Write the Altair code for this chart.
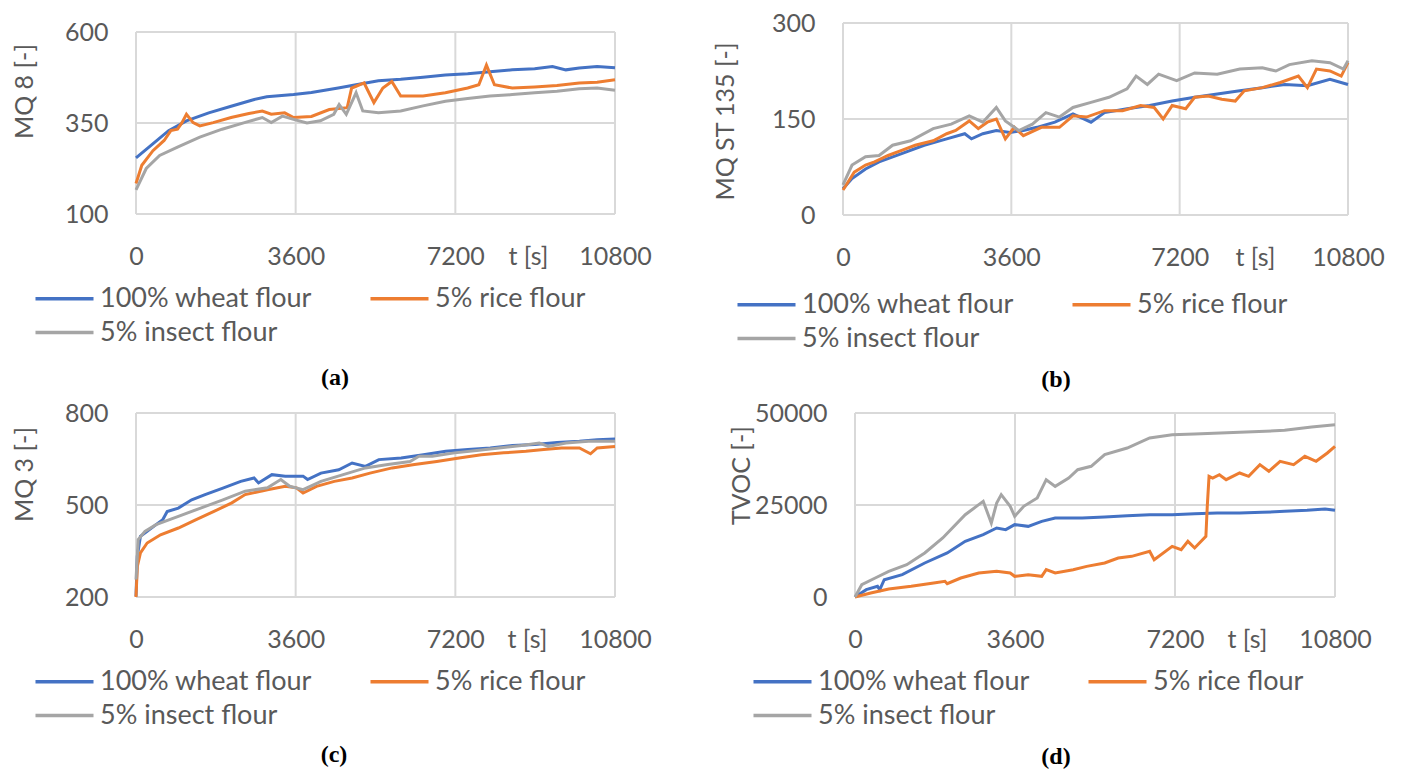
import altair as alt
import pandas as pd

SERIES = ["100% wheat flour", "5% rice flour", "5% insect flour"]
COLORS = ["#4472C4", "#ED7D31", "#A5A5A5"]
X_TICKS = [0, 3600, 7200, 10800]

# ---------------- panel (a) MQ 8 ----------------
a_wheat_t = [0, 332, 735, 1137, 1640, 2144, 2647, 2949, 3553, 3955, 4559, 4962, 5465, 5968, 6472, 6975, 7478, 7981, 8484, 8988, 9390, 9692, 9994, 10397, 10800]
a_wheat_v = [254, 288, 329, 356, 378, 396, 414, 422, 428, 434, 446, 455, 466, 470, 476, 482, 485, 491, 496, 499, 505, 496, 501, 505, 502]
a_rice_t = [0, 131, 382, 634, 785, 936, 1037, 1137, 1288, 1439, 1741, 2144, 2546, 2848, 3050, 3352, 3553, 3955, 4358, 4761, 4861, 4962, 5143, 5364, 5566, 5767, 5968, 6472, 6975, 7478, 7730, 7901, 8082, 8484, 8988, 9491, 9994, 10397, 10800]
a_rice_v = [184, 234, 274, 302, 329, 333, 351, 374, 351, 342, 351, 365, 376, 383, 374, 378, 365, 368, 387, 392, 446, 451, 460, 406, 446, 464, 424, 424, 433, 446, 455, 509, 455, 446, 449, 453, 460, 462, 469]
a_insect_t = [0, 231, 533, 936, 1439, 1942, 2446, 2848, 3050, 3301, 3553, 3855, 4157, 4459, 4580, 4741, 4962, 5113, 5465, 5968, 6472, 6975, 7478, 7981, 8484, 8988, 9491, 9994, 10397, 10800]
a_insect_v = [166, 225, 261, 284, 311, 333, 351, 365, 351, 369, 360, 350, 356, 374, 401, 374, 433, 383, 378, 383, 397, 410, 417, 424, 428, 433, 437, 444, 446, 440]

# ---------------- panel (b) MQ ST 135 ----------------
b_wheat_t = [0, 193, 482, 771, 1254, 1736, 2218, 2604, 2748, 2990, 3279, 3568, 3857, 4146, 4532, 4918, 5304, 5593, 6075, 6557, 7039, 7521, 8004, 8486, 8968, 9450, 9932, 10414, 10800]
b_wheat_v = [41, 57, 72, 83, 96, 109, 119, 127, 119, 127, 132, 129, 132, 137, 145, 158, 145, 160, 166, 171, 178, 184, 189, 194, 199, 204, 202, 212, 204]
b_rice_t = [0, 241, 482, 675, 964, 1254, 1543, 1929, 2218, 2411, 2700, 2893, 3086, 3279, 3472, 3664, 3857, 4243, 4629, 4918, 5207, 5593, 5979, 6364, 6654, 6847, 7039, 7329, 7521, 7811, 8100, 8389, 8582, 8968, 9354, 9739, 9932, 10125, 10414, 10655, 10800]
b_rice_v = [39, 67, 78, 83, 93, 101, 109, 116, 127, 132, 147, 135, 145, 150, 119, 137, 124, 137, 137, 155, 153, 163, 163, 171, 168, 150, 171, 166, 184, 186, 181, 178, 194, 199, 207, 217, 199, 228, 225, 217, 238]
b_insect_t = [0, 193, 482, 771, 1061, 1446, 1929, 2314, 2700, 2990, 3279, 3472, 3761, 4050, 4339, 4629, 4918, 5304, 5689, 6075, 6268, 6509, 6750, 7136, 7521, 8004, 8486, 8968, 9257, 9546, 10028, 10414, 10703, 10800]
b_insect_v = [47, 78, 91, 93, 109, 116, 135, 142, 155, 145, 168, 147, 132, 142, 160, 153, 168, 176, 184, 197, 217, 204, 220, 210, 222, 220, 228, 230, 225, 235, 241, 238, 228, 241]

# ---------------- panel (c) MQ 3 ----------------
c_wheat_t = [0, 30, 100, 251, 452, 603, 703, 955, 1256, 1557, 1959, 2361, 2662, 2763, 3064, 3366, 3767, 3868, 4170, 4572, 4873, 5174, 5476, 5978, 6480, 6983, 7485, 7987, 8490, 8992, 9494, 9997, 10399, 10800]
c_wheat_v = [202, 333, 398, 414, 436, 452, 479, 490, 517, 534, 555, 577, 588, 572, 599, 594, 594, 583, 604, 615, 637, 626, 648, 653, 664, 675, 681, 686, 694, 697, 704, 708, 713, 715]
c_rice_t = [0, 30, 100, 251, 553, 955, 1356, 1758, 2160, 2461, 2964, 3366, 3617, 3767, 4069, 4471, 4873, 5275, 5777, 6279, 6782, 7284, 7787, 8289, 8791, 9193, 9595, 9997, 10248, 10399, 10800]
c_rice_v = [200, 300, 344, 376, 403, 425, 452, 479, 507, 534, 550, 561, 556, 539, 561, 577, 588, 604, 621, 632, 642, 653, 664, 670, 675, 681, 686, 686, 667, 686, 691]
c_insect_t = [0, 50, 201, 452, 955, 1457, 1959, 2461, 2964, 3265, 3466, 3767, 4170, 4672, 5174, 5677, 6179, 6380, 6681, 7184, 7686, 8188, 8691, 9093, 9294, 9695, 10198, 10800]
c_insect_v = [257, 387, 414, 436, 463, 490, 517, 545, 556, 583, 561, 550, 577, 599, 621, 632, 642, 659, 659, 670, 678, 686, 694, 702, 691, 702, 708, 708]

# ---------------- panel (d) TVOC ----------------
d_wheat_t = [0, 253, 506, 557, 658, 1063, 1569, 2075, 2480, 2885, 3188, 3391, 3593, 3897, 4201, 4504, 5112, 5618, 6124, 6630, 7136, 7642, 8148, 8654, 9160, 9666, 10172, 10577, 10800]
d_wheat_v = [0, 2000, 2900, 2000, 4700, 6070, 9240, 11960, 15130, 16940, 18750, 18300, 19660, 19200, 20560, 21470, 21470, 21740, 22100, 22370, 22370, 22650, 22830, 22830, 23000, 23280, 23550, 23900, 23550]
d_rice_t = [0, 354, 759, 1265, 1771, 2024, 2075, 2379, 2784, 3188, 3492, 3593, 3897, 4201, 4302, 4504, 4909, 5213, 5618, 5922, 6226, 6630, 6731, 7136, 7339, 7490, 7642, 7895, 7926, 7966, 8047, 8199, 8351, 8654, 8857, 9110, 9312, 9565, 9869, 10122, 10375, 10628, 10800]
d_rice_v = [0, 1090, 2170, 2900, 3800, 4260, 3620, 5160, 6520, 6970, 6520, 5620, 6070, 5620, 7430, 6520, 7430, 8330, 9240, 10600, 11050, 12410, 10150, 13770, 12860, 15130, 13320, 16490, 24640, 32790, 32340, 33240, 31880, 33700, 32790, 35960, 34150, 36870, 35960, 38230, 36870, 39130, 40940]
d_insect_t = [0, 152, 455, 759, 1164, 1569, 1974, 2480, 2784, 2885, 3067, 3188, 3290, 3492, 3593, 3796, 4100, 4302, 4504, 4808, 5011, 5314, 5618, 6124, 6630, 7136, 7642, 8654, 9666, 10274, 10800]
d_insect_v = [0, 3350, 5160, 6970, 8790, 11960, 16030, 22370, 25090, 26000, 20110, 25540, 27810, 24640, 21920, 24640, 26900, 31880, 30070, 32340, 34600, 35510, 38680, 40490, 43210, 44110, 44290, 44750, 45290, 46200, 46830]

PANELS = [
    dict(key="a", label="(a)", ytitle="MQ 8 [-]", yticks=[100, 350, 600],
         series=[(a_wheat_t, a_wheat_v), (a_rice_t, a_rice_v), (a_insect_t, a_insect_v)],
         xr=[136, 615], yr=[214, 32], ytitle_xy=(24, 91), xtitle_x=528,
         legend_xy=(51, 285), label_xy=(335, 378)),
    dict(key="b", label="(b)", ytitle="MQ ST 135 [-]", yticks=[0, 150, 300],
         series=[(b_wheat_t, b_wheat_v), (b_rice_t, b_rice_v), (b_insect_t, b_insect_v)],
         xr=[843, 1348], yr=[215, 23], ytitle_xy=(725, 121), xtitle_x=1255,
         legend_xy=(753, 291), label_xy=(1056, 380)),
    dict(key="c", label="(c)", ytitle="MQ 3 [-]", yticks=[200, 500, 800],
         series=[(c_wheat_t, c_wheat_v), (c_rice_t, c_rice_v), (c_insect_t, c_insect_v)],
         xr=[136, 615], yr=[597, 413], ytitle_xy=(24, 474), xtitle_x=527,
         legend_xy=(51, 668), label_xy=(334, 755)),
    dict(key="d", label="(d)", ytitle="TVOC [-]", yticks=[0, 25000, 50000],
         series=[(d_wheat_t, d_wheat_v), (d_rice_t, d_rice_v), (d_insect_t, d_insect_v)],
         xr=[855, 1335], yr=[597, 413], ytitle_xy=(741, 475), xtitle_x=1247,
         legend_xy=(769, 668), label_xy=(1056, 757)),
]

W, H = 1405, 769
FONT = "Lato"
TXT = "#595959"
GRID = "#D9D9D9"

layers = []
for p in PANELS:
    xs = alt.Scale(domain=[0, 10800], range=p["xr"], nice=False, zero=False)
    ys = alt.Scale(domain=[p["yticks"][0], p["yticks"][-1]], range=p["yr"], nice=False, zero=False)
    ymin, ymax = p["yticks"][0], p["yticks"][-1]

    vgrid = pd.DataFrame({"t": X_TICKS, "v": [ymin] * 4, "v2": [ymax] * 4})
    hgrid = pd.DataFrame({"v": p["yticks"], "t": [0] * 3, "t2": [10800] * 3})

    layers.append(
        alt.Chart(vgrid).mark_rule(color=GRID, strokeWidth=2).encode(
            x=alt.X("t:Q", scale=xs, axis=None),
            y=alt.Y("v:Q", scale=ys, axis=None),
            y2="v2:Q",
        )
    )
    layers.append(
        alt.Chart(hgrid).mark_rule(color=GRID, strokeWidth=2).encode(
            x=alt.X("t:Q", scale=xs, axis=None),
            x2="t2:Q",
            y=alt.Y("v:Q", scale=ys, axis=None),
        )
    )

    rows = []
    for name, (ts, vs) in zip(SERIES, p["series"]):
        for i, (t, v) in enumerate(zip(ts, vs)):
            rows.append({"t": t, "v": v, "series": name, "order": i})
    df = pd.DataFrame(rows)

    x_axis = alt.Axis(
        orient="bottom", offset=p["yr"][0] - H, values=X_TICKS, format="d", grid=False,
        domain=False, ticks=False, tickSize=0, labelPadding=30, labelFontSize=25,
        labelFont=FONT, labelColor=TXT, labelFlush=False, labelOverlap=False,
        title="t [s]", titleFont=FONT, titleFontSize=25, titleFontWeight="normal",
        titleColor=TXT, titleX=p["xtitle_x"], titleY=30, titleAlign="center",
        titleBaseline="top", titleAnchor="start",
    )
    y_axis = alt.Axis(
        orient="left", offset=-p["xr"][0], values=p["yticks"], grid=False,
        domain=False, ticks=False, tickSize=0, labelPadding=28, labelFontSize=25,
        labelFont=FONT, labelColor=TXT, labelFlush=False, labelOverlap=False,
        format="d", title=p["ytitle"], titleFont=FONT, titleFontSize=25,
        titleFontWeight="normal", titleColor=TXT, titleAngle=270,
        titleX=p["ytitle_xy"][0] - p["xr"][0], titleY=p["ytitle_xy"][1],
        titleAlign="center", titleBaseline="middle", titleAnchor="start",
    )
    legend = alt.Legend(
        orient="none", legendX=p["legend_xy"][0], legendY=p["legend_xy"][1],
        direction="horizontal", columns=2, title=None, symbolType="M-3,0H3",
        symbolSize=374, symbolStrokeWidth=3.5, symbolFillColor="transparent",
        labelFontSize=27, labelFont=FONT,
        labelColor=TXT, labelOffset=22, columnPadding=50, rowPadding=6,
        labelLimit=400, padding=0,
    )
    layers.append(
        alt.Chart(df).mark_line(strokeWidth=3).encode(
            x=alt.X("t:Q", scale=xs, axis=x_axis),
            y=alt.Y("v:Q", scale=ys, axis=y_axis),
            color=alt.Color("series:N", scale=alt.Scale(domain=SERIES, range=COLORS), legend=legend),
            order="order:Q",
        )
    )
    lab = pd.DataFrame({"label": [p["label"]]})
    layers.append(
        alt.Chart(lab).mark_text(font="Liberation Serif", fontSize=24, fontWeight="bold",
                                 color="#000000", align="center", baseline="middle").encode(
            x=alt.value(p["label_xy"][0]), y=alt.value(p["label_xy"][1]), text="label:N"
        )
    )

chart = alt.layer(*layers).resolve_scale(
    x="independent", y="independent", color="independent"
).resolve_axis(x="independent", y="independent").resolve_legend(color="independent").properties(
    width=W, height=H, autosize=alt.AutoSizeParams(type="none"), padding=0, background="white"
).configure_view(stroke=None)

chart.save("out.html", embed_options={"renderer": "svg", "actions": False})
